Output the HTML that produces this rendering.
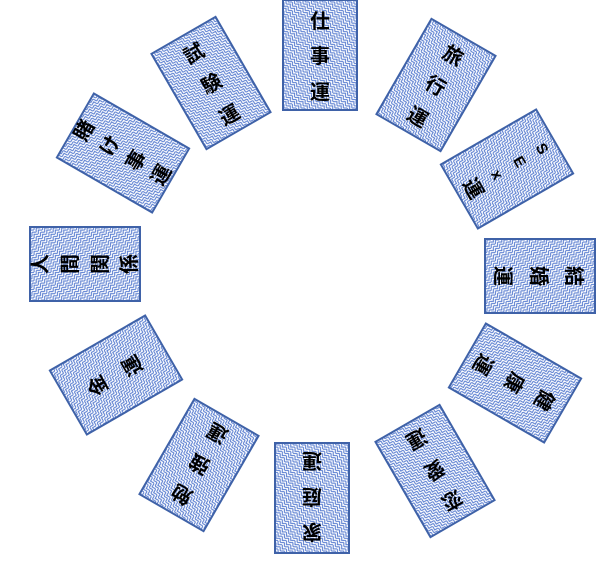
<!DOCTYPE html>
<html><head><meta charset="utf-8"><style>
html,body{margin:0;padding:0;background:#fff;}
svg{display:block}
text{font-family:"Liberation Sans","Noto Sans CJK JP",sans-serif;font-size:20px;font-weight:bold;fill:#000;text-anchor:middle;dominant-baseline:central}
</style></head><body>
<svg width="612" height="569" viewBox="0 0 612 569" xmlns="http://www.w3.org/2000/svg">
<defs>
<pattern id="p" width="6" height="6" patternUnits="userSpaceOnUse" patternTransform="rotate(45)">
<rect width="6" height="6" fill="#fff"/>
<path d="M0 3 L3 0 L6 3 M0 6 L3 3 L6 6" stroke="#5a7ed0" stroke-width="1.1" fill="none"/>
</pattern>
<g id="box"><rect x="-37" y="-55" width="74" height="110" fill="url(#p)" stroke="#3f62a8" stroke-width="2"/></g>
</defs>
<g transform="translate(320,55) rotate(0)"><use href="#box"/><text y="-33">仕</text><text y="2">事</text><text y="38">運</text></g>
<g transform="translate(436,85) rotate(30)"><use href="#box"/><text y="-33">旅</text><text y="2">行</text><text y="38">運</text></g>
<g transform="translate(507,169) rotate(60)"><use href="#box"/><text y="-40" style="font-size:15px">S</text><text y="-14" style="font-size:15px">E</text><text y="12" style="font-size:15px">x</text><text y="40">運</text></g>
<g transform="translate(540,276) rotate(90)"><use href="#box"/><text y="-33">結</text><text y="2">婚</text><text y="38">運</text></g>
<g transform="translate(515,383) rotate(120)"><use href="#box"/><text y="-33">健</text><text y="2">康</text><text y="38">運</text></g>
<g transform="translate(435,471) rotate(150)"><use href="#box"/><text y="-33">恋</text><text y="2">愛</text><text y="38">運</text></g>
<g transform="translate(312,498) rotate(180)"><use href="#box"/><text y="-33">家</text><text y="2">庭</text><text y="38">運</text></g>
<g transform="translate(199,465) rotate(210)"><use href="#box"/><text y="-33">勉</text><text y="2">強</text><text y="38">運</text></g>
<g transform="translate(116,375) rotate(240)"><use href="#box"/><text y="-20">金</text><text y="20">運</text></g>
<g transform="translate(85,264) rotate(270)"><use href="#box"/><text y="-44">人</text><text y="-14">間</text><text y="16">関</text><text y="45">係</text></g>
<g transform="translate(123,153) rotate(300)"><use href="#box"/><text y="-44">賭</text><text y="-14">け</text><text y="16">事</text><text y="45">運</text></g>
<g transform="translate(211,83) rotate(330)"><use href="#box"/><text y="-33">試</text><text y="2">験</text><text y="38">運</text></g>
</svg>
</body></html>
